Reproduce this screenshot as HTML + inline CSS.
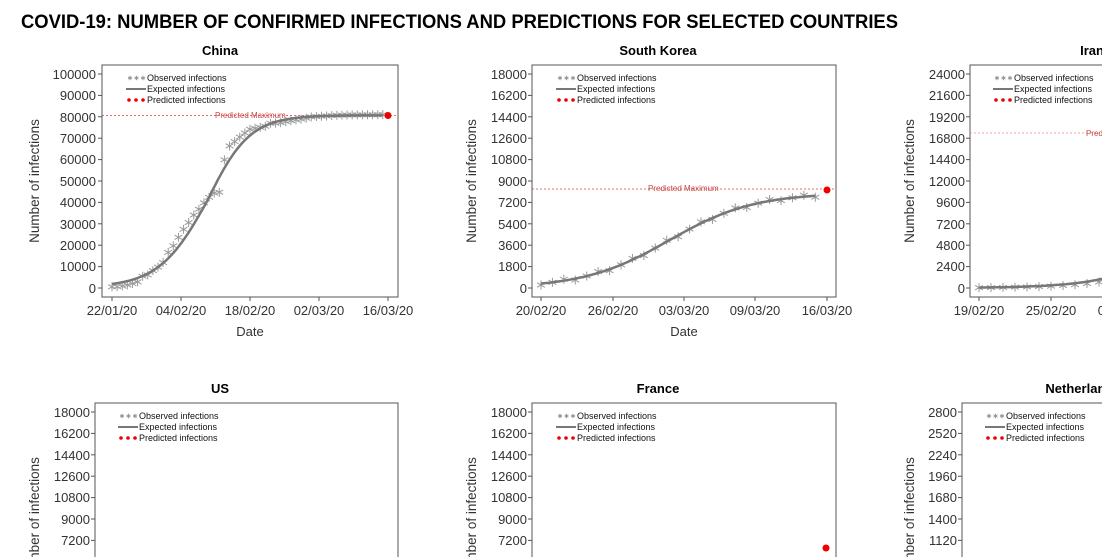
<!DOCTYPE html>
<html><head><meta charset="utf-8"><style>
html,body{margin:0;background:#fff;width:1102px;height:557px;overflow:hidden}
svg{font-family:"Liberation Sans",Arial,sans-serif;display:block}
.t{font-size:13.5px;fill:#333}
.h{font-size:13px;font-weight:bold;text-anchor:middle}
.lg{font-size:9px;fill:#111}
.yl{font-size:13px;fill:#333;text-anchor:end}
.xl{font-size:13px;fill:#333;text-anchor:middle}
</style></head><body>
<svg id="s" width="1102" height="557" xmlns="http://www.w3.org/2000/svg" overflow="hidden">
<text x="21" y="28" textLength="877" lengthAdjust="spacingAndGlyphs" style="font-size:19px;font-weight:bold;fill:#000">COVID-19: NUMBER OF CONFIRMED INFECTIONS AND PREDICTIONS FOR SELECTED COUNTRIES</text>
<g id="g"></g>
<text class="h" x="220" y="55">China</text>
<text class="h" x="658" y="55">South Korea</text>
<text class="h" x="1092" y="55">Iran</text>
<text class="h" x="220" y="393">US</text>
<text class="h" x="658" y="393">France</text>
<text class="h" x="1083" y="393">Netherlands</text>
<text class="t" transform="translate(39,181) rotate(-90)" text-anchor="middle">Number of infections</text>
<text class="t" transform="translate(476,181) rotate(-90)" text-anchor="middle">Number of infections</text>
<text class="t" transform="translate(914,181) rotate(-90)" text-anchor="middle">Number of infections</text>
<text class="t" transform="translate(39,519) rotate(-90)" text-anchor="middle">Number of infections</text>
<text class="t" transform="translate(476,519) rotate(-90)" text-anchor="middle">Number of infections</text>
<text class="t" transform="translate(914,519) rotate(-90)" text-anchor="middle">Number of infections</text>
<g class="yl">
<text x="96" y="79">100000</text><text x="96" y="100">90000</text><text x="96" y="122">80000</text><text x="96" y="143">70000</text><text x="96" y="164">60000</text><text x="96" y="186">50000</text><text x="96" y="207">40000</text><text x="96" y="229">30000</text><text x="96" y="250">20000</text><text x="96" y="271">10000</text><text x="96" y="293">0</text>
<text x="527" y="79">18000</text><text x="527" y="100">16200</text><text x="527" y="122">14400</text><text x="527" y="143">12600</text><text x="527" y="164">10800</text><text x="527" y="186">9000</text><text x="527" y="207">7200</text><text x="527" y="229">5400</text><text x="527" y="250">3600</text><text x="527" y="271">1800</text><text x="527" y="293">0</text>
<text x="965" y="79">24000</text><text x="965" y="100">21600</text><text x="965" y="122">19200</text><text x="965" y="143">16800</text><text x="965" y="164">14400</text><text x="965" y="186">12000</text><text x="965" y="207">9600</text><text x="965" y="229">7200</text><text x="965" y="250">4800</text><text x="965" y="271">2400</text><text x="965" y="293">0</text>
<text x="90" y="417">18000</text><text x="90" y="438">16200</text><text x="90" y="460">14400</text><text x="90" y="481">12600</text><text x="90" y="502">10800</text><text x="90" y="524">9000</text><text x="90" y="545">7200</text>
<text x="527" y="417">18000</text><text x="527" y="438">16200</text><text x="527" y="460">14400</text><text x="527" y="481">12600</text><text x="527" y="502">10800</text><text x="527" y="524">9000</text><text x="527" y="545">7200</text>
<text x="957" y="417">2800</text><text x="957" y="438">2520</text><text x="957" y="460">2240</text><text x="957" y="481">1960</text><text x="957" y="502">1680</text><text x="957" y="524">1400</text><text x="957" y="545">1120</text>
</g>
<g class="xl">
<text x="112" y="315">22/01/20</text><text x="181" y="315">04/02/20</text><text x="250" y="315">18/02/20</text><text x="319" y="315">02/03/20</text><text x="388" y="315">16/03/20</text>
<text x="541" y="315">20/02/20</text><text x="613" y="315">26/02/20</text><text x="684" y="315">03/03/20</text><text x="755" y="315">09/03/20</text><text x="827" y="315">16/03/20</text>
<text x="979" y="315">19/02/20</text><text x="1051" y="315">25/02/20</text><text x="1123" y="315">02/03/20</text>
<text x="250" y="336">Date</text><text x="684" y="336">Date</text>
</g>
<g class="lg">
<text x="147" y="81">Observed infections</text><text x="147" y="92">Expected infections</text><text x="147" y="103">Predicted infections</text>
<text x="577" y="81">Observed infections</text><text x="577" y="92">Expected infections</text><text x="577" y="103">Predicted infections</text>
<text x="1014" y="81">Observed infections</text><text x="1014" y="92">Expected infections</text><text x="1014" y="103">Predicted infections</text>
<text x="139" y="419">Observed infections</text><text x="139" y="430">Expected infections</text><text x="139" y="441">Predicted infections</text>
<text x="577" y="419">Observed infections</text><text x="577" y="430">Expected infections</text><text x="577" y="441">Predicted infections</text>
<text x="1006" y="419">Observed infections</text><text x="1006" y="430">Expected infections</text><text x="1006" y="441">Predicted infections</text>
</g>
<g style="font-size:8px;fill:#c44">
<text x="215" y="118">Predicted Maximum</text>
<text x="648" y="191">Predicted Maximum</text>
<text x="1086" y="136">Predicted Maximum</text>
</g>
</svg>
<script>
var g=document.getElementById('g'),NS='http://www.w3.org/2000/svg';
function el(n,a){var e=document.createElementNS(NS,n);for(var k in a)e.setAttribute(k,a[k]);g.appendChild(e);return e;}
function star(x,y,s){s=s||4.5;for(var i=0;i<3;i++){var a=i*Math.PI/3+Math.PI/2,dx=s*Math.cos(a),dy=s*Math.sin(a);el('line',{x1:x-dx,y1:y-dy,x2:x+dx,y2:y+dy,stroke:'#999','stroke-width':1});}}
function box(x1,y1,x2,y2,yt,xt){
 el('rect',{x:x1,y:y1,width:x2-x1,height:y2-y1,fill:'none',stroke:'#555','stroke-width':1});
 yt.forEach(function(y){el('line',{x1:x1-4,y1:y,x2:x1,y2:y,stroke:'#555'});});
 xt.forEach(function(x){el('line',{x1:x,y1:y2,x2:x,y2:y2+4,stroke:'#555'});});
}
function leg(x,y){
 for(var i=0;i<3;i++)star(x+4+i*6.5,y-3,2.2);
 el('line',{x1:x,y1:y+8,x2:x+20,y2:y+8,stroke:'#777','stroke-width':2});
 for(var i=0;i<3;i++)el('circle',{cx:x+3+i*7,cy:y+19,r:1.8,fill:'#e00'});
}
function ticks(top){var a=[];for(var i=0;i<11;i++)a.push(top+i*21.4);return a;}
box(102,65,398,297,ticks(74),[112,181,250,319,388]);leg(126,81);
box(532,65,836,297,ticks(74),[541,613,684,755,827]);leg(556,81);
box(970,65,1110,297,ticks(74),[979,1051]);leg(993,81);
box(95,403,398,560,ticks(412).slice(0,7),[]);leg(118,419);
box(532,403,836,560,ticks(412).slice(0,7),[]);leg(556,419);
box(962,403,1110,560,ticks(412).slice(0,7),[]);leg(985,419);
function curve(x0,ppd,d0,d1,f,Y,w){var p='';for(var d=d0;d<=d1;d+=0.25){p+=(p?'L':'M')+(x0+d*ppd).toFixed(1)+','+Y(f(d)).toFixed(1);}el('path',{d:p,fill:'none',stroke:'#777','stroke-width':w||2.5});}
function logi(K,m,r){return function(d){return K/(1+Math.exp(-r*(d-m)));};}
var Yc=function(v){return 288-v/100000*214;};
el('line',{x1:102,y1:115.5,x2:398,y2:115.5,stroke:'#c44','stroke-width':0.8,'stroke-dasharray':'2,2'});
var obsC=[548,643,920,1406,2075,2877,5509,6087,8141,9802,11891,16630,19716,23707,27440,30587,34110,36814,39829,42354,44386,44759,59895,66358,68413,70513,72434,74211,74619,75077,75550,77001,77022,77241,77754,78166,78600,78928,79356,79932,80136,80261,80386,80537,80690,80770,80823,80860,80887,80921,80932,80945,80977,81003];
obsC.forEach(function(v,i){star(112+i*5.11,Yc(v));});
curve(112,5.11,0,53,function(d){var r=d<18.6?0.21:0.24;return 300+80400/(1+Math.exp(-r*(d-18.6)));},Yc);
el('circle',{cx:388,cy:115.5,r:3.5,fill:'#e00'});
var Yk=function(v){return 288-v/18000*214;};
el('line',{x1:532,y1:189,x2:836,y2:189,stroke:'#c44','stroke-width':0.8,'stroke-dasharray':'2,2'});
var fk=logi(8000,11.2,0.27);
for(var i=0;i<25;i++){star(541+i*11.43,Yk(fk(i)+(i%3-1)*120));}
curve(541,11.43,0,24,fk,Yk);
el('circle',{cx:827,cy:190,r:3.5,fill:'#e00'});
var Yi=function(v){return 288-v/24000*214;};
el('line',{x1:970,y1:133,x2:1110,y2:133,stroke:'#e88','stroke-width':0.8,'stroke-dasharray':'2,2'});
var fi=logi(17400,19.5,0.3);
for(var i=0;i<11;i++){star(979+i*12,Yi(fi(i)*0.7));}
curve(979,12,0,11,fi,Yi);
el('circle',{cx:826,cy:548,r:3.5,fill:'#e00'});
</script>
</body></html>
